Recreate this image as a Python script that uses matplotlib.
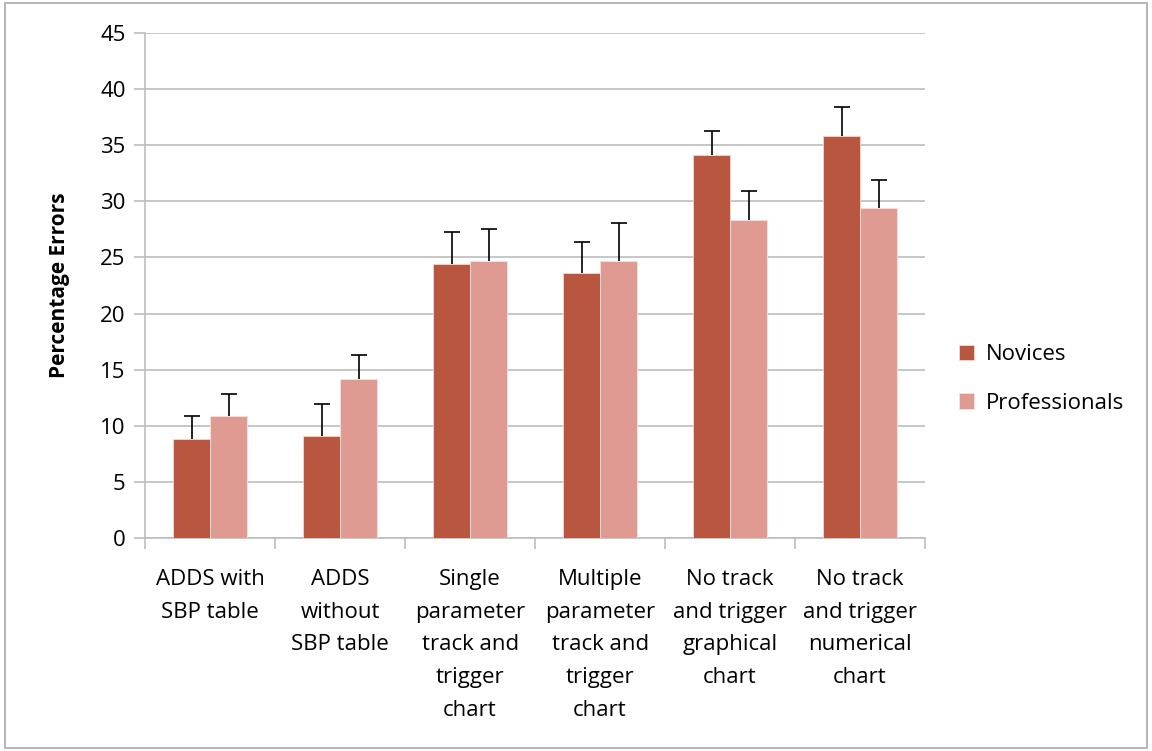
import matplotlib
matplotlib.use("Agg")
import matplotlib.pyplot as plt
import numpy as np

plt.rcParams["font.family"] = ["Open Sans", "DejaVu Sans"]

categories = [
    "ADDS with\nSBP table",
    "ADDS\nwithout\nSBP table",
    "Single\nparameter\ntrack and\ntrigger\nchart",
    "Multiple\nparameter\ntrack and\ntrigger\nchart",
    "No track\nand trigger\ngraphical\nchart",
    "No track\nand trigger\nnumerical\nchart",
]
novices = [8.8, 9.1, 24.4, 23.6, 34.1, 35.8]
novices_err = [2.05, 2.8, 2.85, 2.8, 2.2, 2.6]
professionals = [10.9, 14.2, 24.7, 24.7, 28.3, 29.4]
professionals_err = [1.9, 2.1, 2.8, 3.4, 2.6, 2.5]
yticks = list(range(0, 50, 5))

NOV_COLOR = "#b85640"
PRO_COLOR = "#df9b91"
GRID = "#bdbdbd"

fig = plt.figure(figsize=(11.52, 7.51), dpi=100)
ax = fig.add_axes([0.126, 0.2836, 0.677, 0.6724])

x = np.arange(len(categories))
w = 0.285
err_kw = dict(ecolor="black", elinewidth=1.2, capsize=6, capthick=1.2)
series = [
    (x - w / 2, novices, novices_err, NOV_COLOR, "#f2d8d2", "Novices"),
    (x + w / 2, professionals, professionals_err, PRO_COLOR, "#f6e2df", "Professionals"),
]
for xs, vals, errs, col, edge, lab in series:
    bars = ax.bar(xs, vals, w, color=col, edgecolor=edge, linewidth=0.6,
                  yerr=[np.zeros(len(vals)), errs], error_kw=err_kw, label=lab, zorder=3)
    # plus-only error bars: hide the caps sitting on the bar tops
    caps = bars.errorbar.lines[1]
    if len(caps) == 2:
        caps[0].set_visible(False)

ax.set_xlim(-0.5, len(categories) - 0.5)
ax.set_ylim(0, 45)
ax.set_yticks(yticks)
ax.tick_params(axis="y", labelsize=16, length=8, color=GRID, width=1.2, pad=6)
ax.yaxis.grid(True, color=GRID, linewidth=1.2, zorder=0)
ax.set_axisbelow(True)

ax.set_xticks(np.arange(-0.5, len(categories), 1.0))
ax.set_xticklabels([])
ax.tick_params(axis="x", length=8, color=GRID, width=1.2)
for i, lab in enumerate(categories):
    ax.text(i, -2.75, lab, ha="center", va="top", fontsize=16, linespacing=1.73)

for side in ["top", "right"]:
    ax.spines[side].set_visible(False)
for side in ["left", "bottom"]:
    ax.spines[side].set_color(GRID)
    ax.spines[side].set_linewidth(1.2)

ax.set_ylabel("Percentage Errors", fontsize=15, fontweight="bold", labelpad=22)

ax.legend(loc="center left", bbox_to_anchor=(1.032, 0.315), frameon=False, fontsize=16,
          handlelength=0.7, handleheight=0.7, handletextpad=0.5, labelspacing=1.22,
          borderaxespad=0)

fig.patches.append(plt.Rectangle((0.004, 0.004), 0.992, 0.992, transform=fig.transFigure,
                                 fill=False, edgecolor="#a8a8a8", linewidth=1.2))

fig.savefig("out.png", dpi=100)
